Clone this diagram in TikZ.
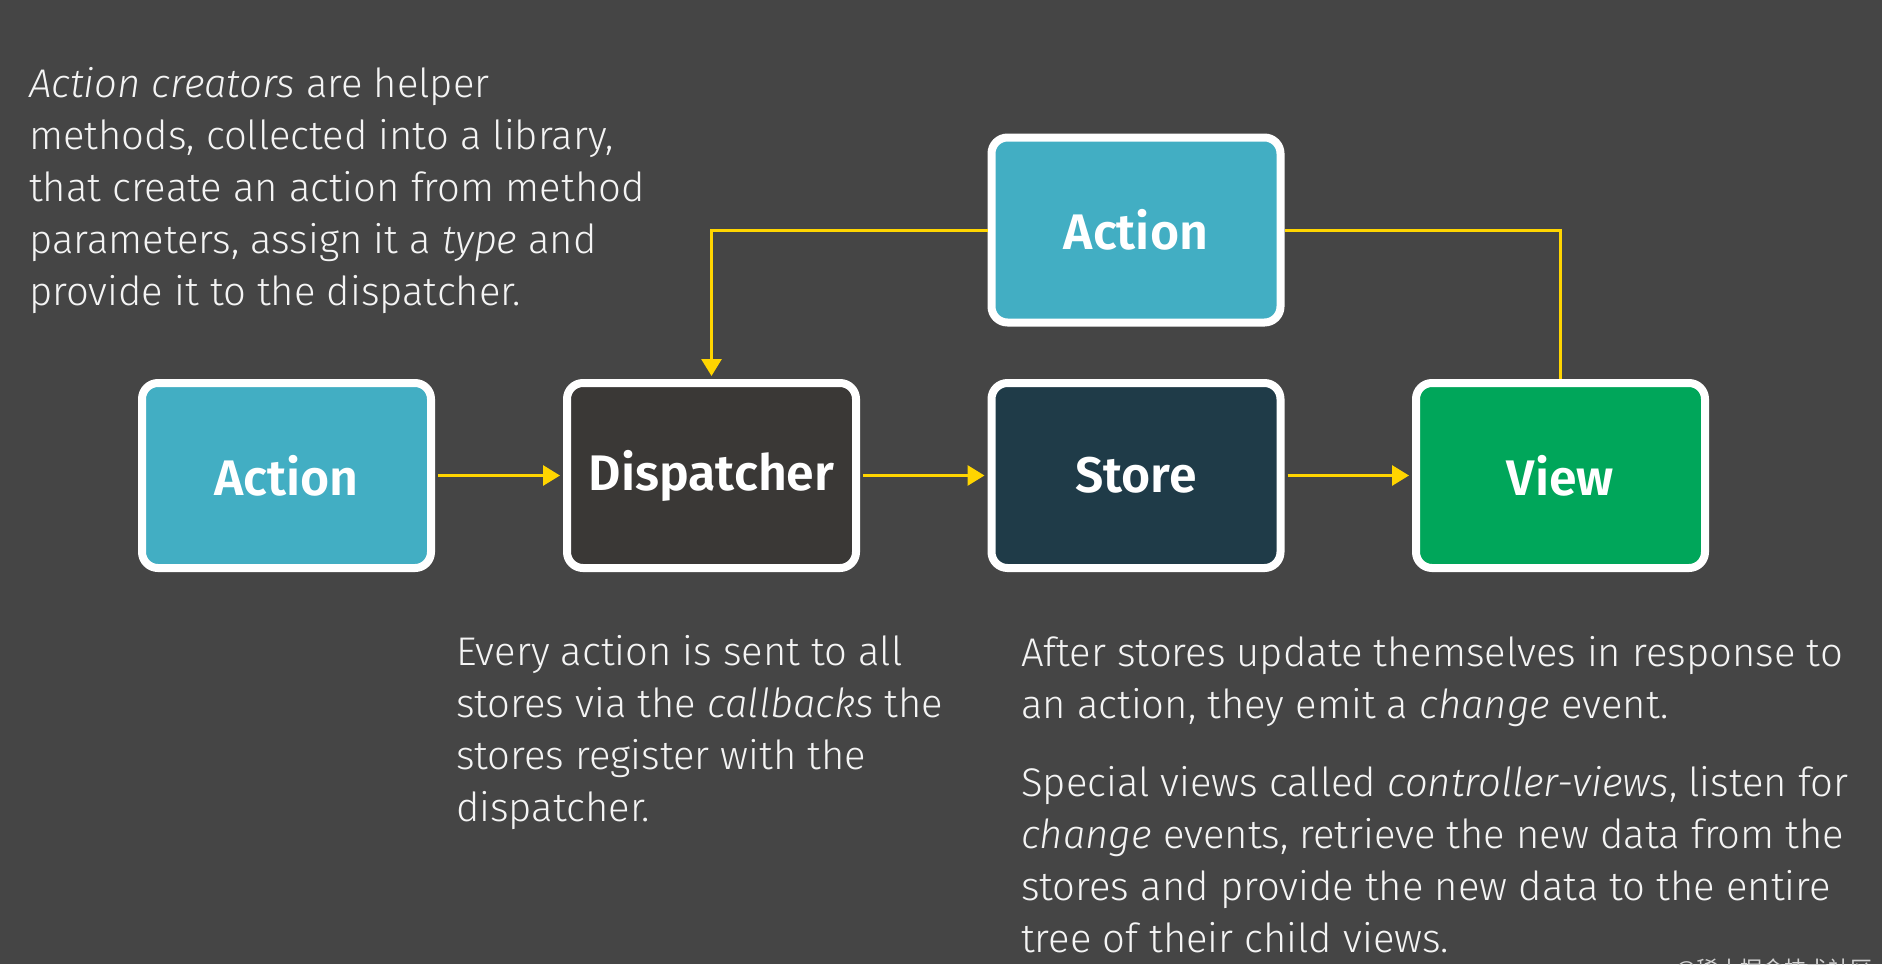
\documentclass[tikz,border=0pt]{standalone}
\usepackage{fontspec}
\setmainfont{Fira Sans Light}[ItalicFont={Fira Sans Light Italic},BoldFont={Fira Sans SemiBold}]
\newfontfamily\cjk{Noto Sans CJK SC}
\usetikzlibrary{arrows.meta}
\definecolor{bg}{HTML}{454545}
\definecolor{teal}{HTML}{42AEC3}
\definecolor{dispc}{HTML}{3A3836}
\definecolor{storec}{HTML}{1F3B48}
\definecolor{viewc}{HTML}{00A65A}
\definecolor{flowy}{HTML}{FFD500}
\definecolor{txt}{HTML}{F4F4F4}
\tikzset{
  fbox/.style={draw=white, line width=8pt, rounded corners=16pt, minimum width=289pt,
    minimum height=185pt, outer sep=4pt, inner sep=0pt, text=white,
    font=\fontsize{50}{60}\selectfont\bfseries},
  flow/.style={draw=flowy, line width=3pt, -{Triangle[length=17pt,width=20pt]}},
  link/.style={draw=flowy, line width=3pt},
  para/.style={anchor=base west, align=left, inner sep=0pt, text=txt,
    font=\fontsize{40}{52}\selectfont}
}
\begin{document}
\begin{tikzpicture}[x=1pt,y=-1pt]
\fill[bg] (0,0) rectangle (1882,964);
\useasboundingbox (0,0) rectangle (1882,964);
\node[fbox, fill=teal] (act) at (286.5,475.5) {Action};
\node[fbox, fill=dispc] (disp) at (711.5,475.5) {Dispatcher};
\node[fbox, fill=storec] (store) at (1136,475.5) {Store};
\node[fbox, fill=viewc] (view) at (1560.5,475.5) {View};
\node[fbox, fill=teal] (acttop) at (1136,230) {Action};
\draw[flow, shorten <=3pt, shorten >=3pt] (act.east) -- (disp.west);
\draw[flow, shorten <=3pt, shorten >=3pt] (disp.east) -- (store.west);
\draw[flow, shorten <=3pt, shorten >=3pt] (store.east) -- (view.west);
\draw[flow, shorten >=3pt] (acttop.west) -| (disp.north);
\draw[link] (view.north) |- (acttop.east);
\node[para] (t1) at (29,305) {\textit{Action creators} are helper\\methods, collected into a library,\\that create an action from method\\parameters, assign it a \textit{type} and\\provide it to the dispatcher.};
\node[para] (t2) at (456,821) {Every action is sent to all\\stores via the \textit{callbacks} the\\stores register with the\\dispatcher.};
\node[para] (t3) at (1021,718) {After stores update themselves in response to\\an action, they emit a \textit{change} event.};
\node[para] (t4) at (1021,952) {Special views called \textit{controller-views}, listen for\\\textit{change} events, retrieve the new data from the\\stores and provide the new data to the entire\\tree of their child views.};
\node[anchor=base west, inner sep=0pt, text=white!75!bg, font=\cjk\fontsize{22}{26}\selectfont] (wm) at (1675,977) {@稀土掘金技术社区};
\end{tikzpicture}
\end{document}
